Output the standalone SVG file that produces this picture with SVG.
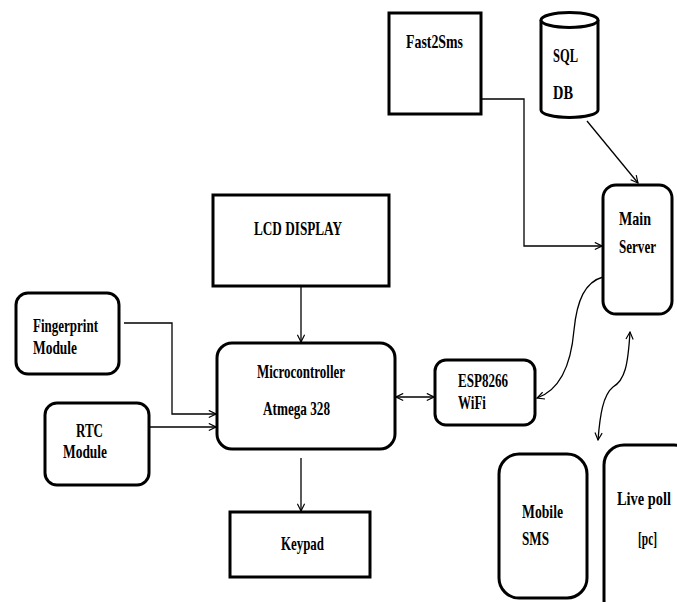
<svg xmlns="http://www.w3.org/2000/svg" width="677" height="602" viewBox="0 0 677 602">
<defs>
<style>
.box{fill:#fff;stroke:#000;stroke-width:3}
.t{font-family:'Liberation Serif','DejaVu Serif',serif;font-size:19px;font-weight:bold;fill:#000}
.c{fill:none;stroke:#000;stroke-width:1.3}
</style>
<marker id="ah" viewBox="0 0 10 10" refX="9" refY="5" markerWidth="9" markerHeight="9" markerUnits="userSpaceOnUse" orient="auto-start-reverse">
<polyline points="1,1 9,5 1,9" fill="none" stroke="#000" stroke-width="1.3"/>
</marker>
</defs>
<rect width="677" height="602" fill="#fff"/>
<g id="connectors">
<polyline class="c" points="481,99 524,99 524,246 602,246" marker-end="url(#ah)"/>
<line class="c" x1="587" y1="121" x2="638" y2="183" marker-end="url(#ah)"/>
<path class="c" d="M603,277 C585,282 577,300 574,330 C571,365 560,390 537,398" marker-end="url(#ah)"/>
<path class="c" d="M598,440 C600,415 603,395 613,387 C625,380 628,365 630,332" marker-start="url(#ah)" marker-end="url(#ah)"/>
<line class="c" x1="396" y1="397" x2="434" y2="397" marker-start="url(#ah)" marker-end="url(#ah)"/>
<line class="c" x1="301" y1="287" x2="301" y2="342" marker-end="url(#ah)"/>
<polyline class="c" points="124,323 172,323 172,414 216,414" marker-end="url(#ah)"/>
<line class="c" x1="150" y1="427" x2="216" y2="427" marker-end="url(#ah)"/>
<line class="c" x1="301" y1="458" x2="301" y2="511" marker-end="url(#ah)"/>
</g>
<g id="fast2sms">
<rect class="box" x="389" y="13" width="92" height="101"/>
<text class="t" x="406" y="48" textLength="57" lengthAdjust="spacingAndGlyphs">Fast2Sms</text>
</g>
<g id="sqldb">
<path class="box" d="M541,20 L541,110 A28.5,7.5 0 0 0 598,110 L598,20"/>
<ellipse class="box" cx="569.5" cy="20" rx="28.5" ry="7.5"/>
<text class="t" x="553" y="62" textLength="25" lengthAdjust="spacingAndGlyphs">SQL</text>
<text class="t" x="553" y="99" textLength="20" lengthAdjust="spacingAndGlyphs">DB</text>
</g>
<g id="mainserver">
<rect class="box" x="603" y="185" width="69" height="129" rx="13"/>
<text class="t" x="619" y="225" textLength="32" lengthAdjust="spacingAndGlyphs">Main</text>
<text class="t" x="619" y="253" textLength="37" lengthAdjust="spacingAndGlyphs">Server</text>
</g>
<g id="lcd">
<rect class="box" x="213" y="195" width="176" height="91"/>
<text class="t" x="254" y="235" textLength="88" lengthAdjust="spacingAndGlyphs">LCD DISPLAY</text>
</g>
<g id="fingerprint">
<rect class="box" x="16" y="293" width="103" height="81" rx="12"/>
<text class="t" x="33" y="332" textLength="65" lengthAdjust="spacingAndGlyphs">Fingerprint</text>
<text class="t" x="33" y="354" textLength="44" lengthAdjust="spacingAndGlyphs">Module</text>
</g>
<g id="microcontroller">
<rect class="box" x="217" y="343" width="178" height="106" rx="15"/>
<text class="t" x="257" y="378" textLength="88" lengthAdjust="spacingAndGlyphs">Microcontroller</text>
<text class="t" x="263" y="415" textLength="67" lengthAdjust="spacingAndGlyphs">Atmega 328</text>
</g>
<g id="esp8266">
<rect class="box" x="435" y="360" width="100" height="65" rx="11"/>
<text class="t" x="458" y="387" textLength="50" lengthAdjust="spacingAndGlyphs">ESP8266</text>
<text class="t" x="458" y="409" textLength="28" lengthAdjust="spacingAndGlyphs">WiFi</text>
</g>
<g id="rtc">
<rect class="box" x="45" y="403" width="104" height="82" rx="12"/>
<text class="t" x="76" y="437" textLength="27" lengthAdjust="spacingAndGlyphs">RTC</text>
<text class="t" x="63" y="458" textLength="44" lengthAdjust="spacingAndGlyphs">Module</text>
</g>
<g id="keypad">
<rect class="box" x="230" y="512" width="140" height="65"/>
<text class="t" x="281" y="550" textLength="43" lengthAdjust="spacingAndGlyphs">Keypad</text>
</g>
<g id="mobilesms">
<rect class="box" x="499" y="454" width="88" height="144" rx="20"/>
<text class="t" x="522" y="518" textLength="41" lengthAdjust="spacingAndGlyphs">Mobile</text>
<text class="t" x="522" y="545" textLength="27" lengthAdjust="spacingAndGlyphs">SMS</text>
</g>
<g id="livepoll">
<rect class="box" x="604" y="445" width="90" height="175" rx="20"/>
<text class="t" x="617" y="505" textLength="54" lengthAdjust="spacingAndGlyphs">Live poll</text>
<text class="t" x="638" y="545" textLength="19" lengthAdjust="spacingAndGlyphs">[pc]</text>
</g>
</svg>
